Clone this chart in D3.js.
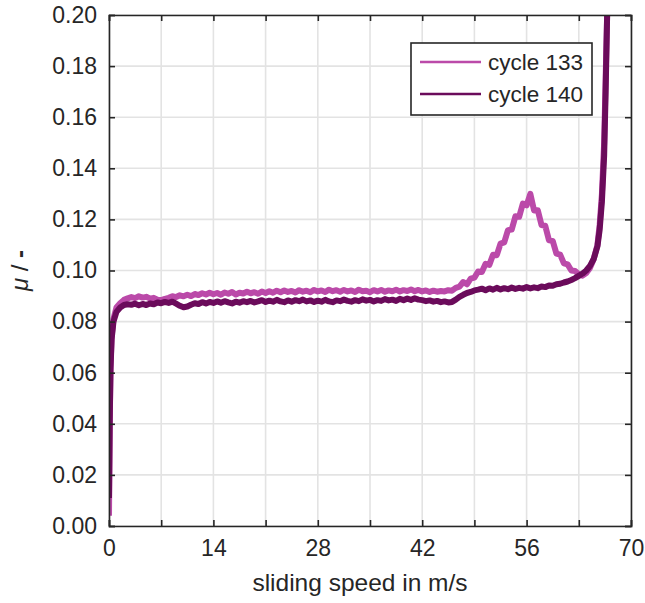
<!DOCTYPE html>
<html>
<head>
<meta charset="utf-8">
<script src="https://cdn.jsdelivr.net/npm/d3@7"></script>
<style>
  body { margin: 0; background: #fff; }
  text { font-family: "Liberation Sans", Arial, sans-serif; fill: #262626; }
</style>
</head>
<body>
<div id="chart"></div>
<script>

// sliding speed (m/s) shared by both cycles
const speed = [
  0, 0.1, 0.2, 0.35, 0.6, 1.0, 1.5, 2.0, 2.5,
  3.0, 3.5, 4.0, 4.5, 5.0, 5.5, 6.0, 6.5, 7.0, 7.5,
  8.0, 8.5, 9.0, 9.5, 10.0, 10.5, 11.0, 11.5, 12.0, 12.5,
  13.0, 13.5, 14.0, 14.5, 15.0, 15.5, 16.0, 16.5, 17.0, 17.5,
  18.0, 18.5, 19.0, 19.5, 20.0, 20.5, 21.0, 21.5, 22.0, 22.5,
  23.0, 23.5, 24.0, 24.5, 25.0, 25.5, 26.0, 26.5, 27.0, 27.5,
  28.0, 28.5, 29.0, 29.5, 30.0, 30.5, 31.0, 31.5, 32.0, 32.5,
  33.0, 33.5, 34.0, 34.5, 35.0, 35.5, 36.0, 36.5, 37.0, 37.5,
  38.0, 38.5, 39.0, 39.5, 40.0, 40.5, 41.0, 41.5, 42.0, 42.5,
  43.0, 43.5, 44.0, 44.5, 45.0, 45.5, 46.0, 46.5, 47.0, 47.5,
  48.0, 48.5, 49.0, 49.5, 50.0, 50.5, 51.0, 51.5, 52.0, 52.5,
  53.0, 53.5, 54.0, 54.5, 55.0, 55.5, 56.0, 56.5, 57.0, 57.5,
  58.0, 58.5, 59.0, 59.5, 60.0, 60.5, 61.0, 61.5, 62.0, 62.5,
  63.0, 63.5, 64.0, 64.5, 65.0, 65.5,
  65.8, 66.1, 66.4, 66.6, 66.8, 67.0
];

// friction coefficient, cycle 133
const mu133 = [
  0.004, 0.040, 0.062, 0.074, 0.081, 0.0855, 0.0872, 0.0885, 0.0891,
  .0896, .0892, .0899, .0894, .0897, .0890, .0893, .0886, .0884, .0889,
  .0893, .0899, .0896, .0903, .0899, .0905, .0900, .0908, .0904, .0911,
  .0906, .0913, .0907, .0912, .0905, .0914, .0909, .0916, .0906, .0913,
  .0910, .0917, .0911, .0915, .0909, .0918, .0912, .0919, .0913, .0921,
  .0915, .0922, .0916, .0920, .0914, .0923, .0917, .0921, .0915, .0924,
  .0918, .0922, .0916, .0925, .0919, .0923, .0917, .0924, .0918, .0922,
  .0916, .0925, .0919, .0921, .0915, .0923, .0918, .0924, .0917, .0922,
  .0919, .0925, .0918, .0923, .0920, .0926, .0919, .0924, .0918, .0922,
  .0916, .0921, .0917, .0920, .0918, .0923, .0921, .0932, .0937, .0955,
  .0946, .0968, .0972, .0996, .0994, .1026, .1022, .1062, .1060, .1105,
  .1110, .1158, .1160, .1212, .1210, .1262, .1255, .1300, .1235, .1236,
  .1178, .1175, .1118, .1116, .1066, .1062, .1028, .1024, .1000, .0998,
  .0985, .0980, .0990, .1010, .1045, .1100,
  .1180, .1300, .1500, .1750, .2000, .2300
];

// friction coefficient, cycle 140
const mu140 = [
  0.011, 0.042, 0.061, 0.073, 0.080, 0.0838, 0.0855, 0.0865, 0.0868,
  .0866, .0870, .0864, .0869, .0865, .0871, .0868, .0875, .0872, .0877,
  .0873, .0878, .0870, .0862, .0856, .0859, .0866, .0872, .0869, .0876,
  .0871, .0877, .0873, .0879, .0874, .0880, .0875, .0871, .0878, .0874,
  .0880, .0876, .0881, .0875, .0879, .0884, .0877, .0882, .0878, .0885,
  .0879, .0876, .0883, .0878, .0884, .0880, .0886, .0879, .0883, .0877,
  .0882, .0878, .0885, .0879, .0876, .0883, .0880, .0886, .0881, .0878,
  .0884, .0880, .0887, .0882, .0885, .0879, .0884, .0881, .0888, .0883,
  .0886, .0881, .0889, .0884, .0890, .0885, .0891, .0886, .0884, .0880,
  .0883, .0878, .0881, .0876, .0879, .0875, .0877, .0886, .0897, .0905,
  .0912, .0916, .0922, .0925, .0929, .0923, .0930, .0925, .0932, .0926,
  .0931, .0927, .0933, .0928, .0932, .0929, .0935, .0930, .0934, .0931,
  .0937, .0935, .0941, .0940, .0946, .0948, .0953, .0957, .0963, .0970,
  .0979, .0988, .1000, .1018, .1045, .1095,
  .1160, .1270, .1450, .1700, .2000, .2300
];

const seriesNames = ["cycle 133", "cycle 140"];
const seriesColors = ["#bb4aa9", "#6b0b5b"];
const xTicks = [0, 14, 28, 42, 56, 70];
const xGrid = [0, 7, 14, 21, 28, 35, 42, 49, 56, 63, 70];
const yTicks = [0, 0.02, 0.04, 0.06, 0.08, 0.10, 0.12, 0.14, 0.16, 0.18, 0.20];

const width = 645, height = 603;
const margin = {top: 15, right: 14, bottom: 77, left: 109};
const w = width - margin.left - margin.right;
const h = height - margin.top - margin.bottom;

const svg = d3.select("#chart").append("svg")
  .attr("width", width)
  .attr("height", height);

const x = d3.scaleLinear().domain([0, 70]).range([0, w]);
const y = d3.scaleLinear().domain([0, 0.2]).range([h, 0]);

const g = svg.append("g")
  .attr("transform", `translate(${margin.left},${margin.top})`);

// grille
g.append("g").selectAll("line").data(xGrid).enter().append("line")
  .attr("x1", d => x(d)).attr("x2", d => x(d))
  .attr("y1", 0).attr("y2", h)
  .attr("stroke", "#e3e3e3").attr("stroke-width", 1.6);
g.append("g").selectAll("line").data(yTicks).enter().append("line")
  .attr("y1", d => y(d)).attr("y2", d => y(d))
  .attr("x1", 0).attr("x2", w)
  .attr("stroke", "#e3e3e3").attr("stroke-width", 1.6);

// courbes
g.append("clipPath").attr("id", "clip")
  .append("rect").attr("width", w).attr("height", h);

[mu133, mu140].forEach((mu, s) => {
  g.append("path")
    .datum(d3.range(speed.length))
    .attr("clip-path", "url(#clip)")
    .attr("d", d3.line().x(i => x(speed[i])).y(i => y(mu[i])))
    .attr("fill", "none")
    .attr("stroke", seriesColors[s])
    .attr("stroke-width", 6)
    .attr("stroke-linejoin", "round");
});

// axes
const tick = 6;
g.append("g")
  .attr("transform", `translate(0,${h})`)
  .call(d3.axisBottom(x).tickValues(xGrid).tickSize(-tick).tickPadding(14)
    .tickFormat(d => xTicks.includes(d) ? d : ""))
  .call(a => a.selectAll("text").style("font-size", "23px").attr("dy", "0.71em"));
g.append("g")
  .call(d3.axisTop(x).tickValues(xGrid).tickSize(-tick).tickFormat(""));
g.append("g")
  .call(d3.axisLeft(y).tickValues(yTicks).tickSize(-tick).tickPadding(12)
    .tickFormat(d3.format(".2f")))
  .call(a => a.selectAll("text").style("font-size", "23px"));
g.append("g")
  .attr("transform", `translate(${w},0)`)
  .call(d3.axisRight(y).tickValues(yTicks).tickSize(-tick).tickFormat(""));

g.selectAll(".domain").attr("stroke", "#262626").attr("stroke-width", 1.6);
g.selectAll(".tick line").attr("stroke", "#262626").attr("stroke-width", 1.6);

// titres des axes
svg.append("text")
  .attr("x", 360)
  .attr("y", 591)
  .attr("text-anchor", "middle")
  .style("font-size", "24.5px")
  .text("sliding speed in m/s");

svg.append("text")
  .attr("transform", `translate(28,${margin.top + h / 2}) rotate(-90)`)
  .attr("text-anchor", "middle")
  .style("font-size", "24px")
  .html('<tspan font-style="italic">μ</tspan> / <tspan font-weight="bold">-</tspan>');

// légende
const leg = svg.append("g").attr("transform", "translate(411,43)");
leg.append("rect")
  .attr("width", 181).attr("height", 72)
  .attr("fill", "#fff").attr("stroke", "#262626").attr("stroke-width", 1.6);
seriesNames.forEach((name, s) => {
  const yy = 19 + s * 32;
  leg.append("line")
    .attr("x1", 9).attr("x2", 70).attr("y1", yy).attr("y2", yy)
    .attr("stroke", seriesColors[s]).attr("stroke-width", 2.5);
  leg.append("text")
    .attr("x", 77).attr("y", yy).attr("dy", "0.36em")
    .style("font-size", "22.5px")
    .text(name);
});
</script>
</body>
</html>
